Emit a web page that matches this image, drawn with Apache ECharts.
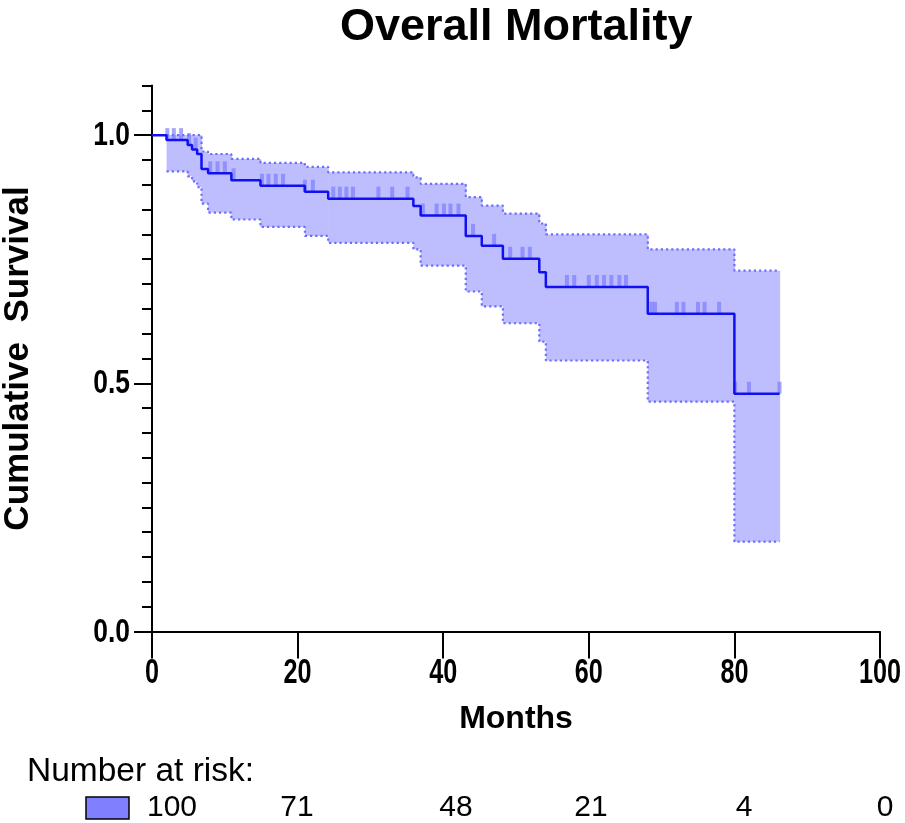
<!DOCTYPE html>
<html>
<head>
<meta charset="utf-8">
<script src="https://cdn.jsdelivr.net/npm/echarts@6/dist/echarts.min.js"></script>
<style>html,body{margin:0;padding:0;background:#fff;}#c{width:905px;height:823px;}</style>
</head>
<body>
<div id="c"></div>
<script>
// ---------- data ----------
const survTimes  = [0, 2.0, 4.9, 5.5, 6.2, 6.8, 7.7, 10.9, 14.9, 21.0, 24.2, 35.9, 36.9, 43.1, 45.3, 48.2, 53.2, 54.1, 68.1, 80.0, 86.2];
const survValues = [1.0, 0.990, 0.980, 0.971, 0.962, 0.932, 0.923, 0.909, 0.898, 0.886, 0.872, 0.857, 0.838, 0.797, 0.777, 0.751, 0.724, 0.694, 0.640, 0.479, 0.479];
const ciTimes    = [2.0, 4.9, 5.5, 6.2, 6.8, 7.7, 10.9, 14.9, 21.0, 24.2, 35.9, 36.9, 43.1, 45.3, 48.2, 53.2, 54.1, 68.1, 80.0, 86.2];
const ciLower    = [0.927, 0.917, 0.907, 0.895, 0.862, 0.844, 0.830, 0.815, 0.797, 0.783, 0.770, 0.737, 0.685, 0.655, 0.621, 0.584, 0.546, 0.463, 0.181, 0.181];
const ciUpper    = [1.0, 1.0, 1.0, 1.0, 0.967, 0.962, 0.952, 0.944, 0.936, 0.925, 0.915, 0.902, 0.875, 0.858, 0.842, 0.822, 0.800, 0.770, 0.727, 0.727];
const censorTimes = [2.1, 3.0, 4.0, 5.1, 6.0, 8.0, 9.0, 10.0, 11.2, 15.1, 16.0, 17.0, 18.0, 21.0, 22.1,
  24.9, 25.8, 26.7, 27.6, 31.1, 33.0, 35.1, 37.2, 39.1, 40.1, 41.0, 42.1, 44.1, 47.0, 49.2, 50.9, 51.9,
  57.0, 58.0, 60.0, 61.1, 62.1, 63.1, 64.2, 65.1, 68.6, 69.1, 72.1, 73.0, 75.0, 75.9, 77.9, 80.1, 82.0, 86.2];
const xTickValues = [0, 20, 40, 60, 80, 100];
const yLabelValues = [0, 0.5, 1.0];
const riskLabel = 'Number at risk:';
const riskNumbers = [100, 71, 48, 21, 4, 0];

// ---------- build series data ----------
function survAt(t) {
  let v = survValues[0];
  for (let i = 0; i < survTimes.length; i++) { if (survTimes[i] <= t) v = survValues[i]; }
  return v;
}
const survData = survTimes.map((t, i) => [t, survValues[i]]);
const lowerData = ciTimes.map((t, i) => [t, ciLower[i]]);
const upperData = ciTimes.map((t, i) => [t, ciUpper[i]]);
const bandData = [];
for (let i = 0; i < ciTimes.length - 1; i++) bandData.push([ciTimes[i], ciTimes[i + 1], ciLower[i], ciUpper[i]]);
const censorData = censorTimes.map(t => [t, survAt(t)]);

const FONT = "'Liberation Sans', Arial, Helvetica, sans-serif";
const minorVals = [];
for (let k = 0; k <= 22; k++) minorVals.push(+(k * 0.05).toFixed(2));

const chart = echarts.init(document.getElementById('c'), null, { renderer: 'canvas' });
const riskX = [172, 297, 456, 591, 744, 885];

chart.setOption({
  animation: false,
  backgroundColor: '#ffffff',
  title: {
    text: 'Overall Mortality', left: 335, top: 0,
    textStyle: { fontFamily: FONT, fontWeight: 'bold', fontSize: 45, color: '#000' }
  },
  grid: { left: 152, right: 25, top: 85.5, bottom: 191.5, containLabel: false, outerBoundsMode: 'none' },
  xAxis: {
    type: 'value', min: 0, max: 100, interval: 20,
    name: 'Months', nameLocation: 'middle', nameGap: 72,
    nameTextStyle: { fontFamily: FONT, fontWeight: 'bold', fontSize: 32, color: '#000' },
    axisLine: { onZero: false, lineStyle: { color: '#000', width: 2 } },
    axisTick: { show: true, length: 27, lineStyle: { color: '#000', width: 2 } },
    axisLabel: { show: false },
    splitLine: { show: false }
  },
  yAxis: [{
    type: 'value', min: 0, max: 1.1,
    name: 'Cumulative  Survival', nameLocation: 'middle', nameGap: 116,
    nameTextStyle: { fontFamily: FONT, fontWeight: 'bold', fontSize: 35, color: '#000' },
    axisLine: { show: true, onZero: false, lineStyle: { color: '#000', width: 2 } },
    axisTick: { show: true, length: 18, customValues: yLabelValues, lineStyle: { color: '#000', width: 2 } },
    axisLabel: { show: false },
    splitLine: { show: false }
  }, {
    type: 'value', min: 0, max: 1.1, position: 'left',
    axisLine: { show: false },
    axisTick: { show: true, length: 10, customValues: minorVals, lineStyle: { color: '#000', width: 2 } },
    axisLabel: { show: false },
    splitLine: { show: false }
  }],
  series: [
    {
      type: 'custom', name: 'band', z: 1, silent: true,
      data: bandData,
      renderItem: function (params, api) {
        const p0 = api.coord([api.value(0), api.value(3)]);
        const p1 = api.coord([api.value(1), api.value(2)]);
        return { type: 'rect', shape: { x: p0[0], y: p0[1], width: p1[0] - p0[0] + 0.6, height: p1[1] - p0[1] },
          style: { fill: 'rgb(190,190,255)' } };
      }
    },
    { type: 'line', name: 'lower', data: lowerData, step: 'end', symbol: 'none', z: 2, silent: true,
      lineStyle: { color: '#6c6cff', width: 2.2, type: [2.2, 3] } },
    { type: 'line', name: 'upper', data: upperData, step: 'end', symbol: 'none', z: 2, silent: true,
      lineStyle: { color: '#6c6cff', width: 2.2, type: [2.2, 3] } },
    { type: 'scatter', name: 'censored', data: censorData, symbol: 'rect', symbolSize: [4, 12],
      symbolOffset: [0, '-50%'], z: 3, silent: true,
      itemStyle: { color: 'rgba(118,118,255,0.8)' } },
    { type: 'line', name: 'survival', data: survData, step: 'end', symbol: 'none', z: 4, silent: true,
      lineStyle: { color: '#1010f0', width: 2.5 } }
  ]
});

// axis tick labels (condensed bold, as in the reference), placed through the axes' scales
const graphics = [];
xTickValues.forEach(v => {
  const p = chart.convertToPixel({ xAxisIndex: 0, yAxisIndex: 0 }, [v, 0]);
  graphics.push({ type: 'text', x: p[0], y: p[1] + 42, scaleX: 0.72, silent: true,
    style: { text: String(v), x: 0, y: 0, font: "bold 35px 'Liberation Sans', Arial, sans-serif", fill: '#000',
      textAlign: 'center', textVerticalAlign: 'middle' } });
});
yLabelValues.forEach(v => {
  const p = chart.convertToPixel({ xAxisIndex: 0, yAxisIndex: 0 }, [0, v]);
  graphics.push({ type: 'text', x: p[0] - 22, y: p[1] + 1, scaleX: 0.8, silent: true,
    style: { text: v.toFixed(1), x: 0, y: 0, font: "bold 33px 'Liberation Sans', Arial, sans-serif", fill: '#000',
      textAlign: 'right', textVerticalAlign: 'middle' } });
});
graphics.push({ type: 'text', left: 27, top: 755, silent: true,
  style: { text: riskLabel, font: "33.5px 'Liberation Sans', Arial, sans-serif", fill: '#000' } });
graphics.push({ type: 'rect', shape: { x: 86, y: 797, width: 43, height: 22 }, silent: true,
  style: { fill: '#8080ff', stroke: '#000', lineWidth: 1.5 } });
riskNumbers.forEach((n, i) => {
  graphics.push({ type: 'text', x: riskX[i], y: 808, silent: true,
    style: { text: String(n), font: "30px 'Liberation Sans', Arial, sans-serif", fill: '#000',
      textAlign: 'center', textVerticalAlign: 'middle' } });
});
chart.setOption({ graphic: graphics });
</script>
</body>
</html>
